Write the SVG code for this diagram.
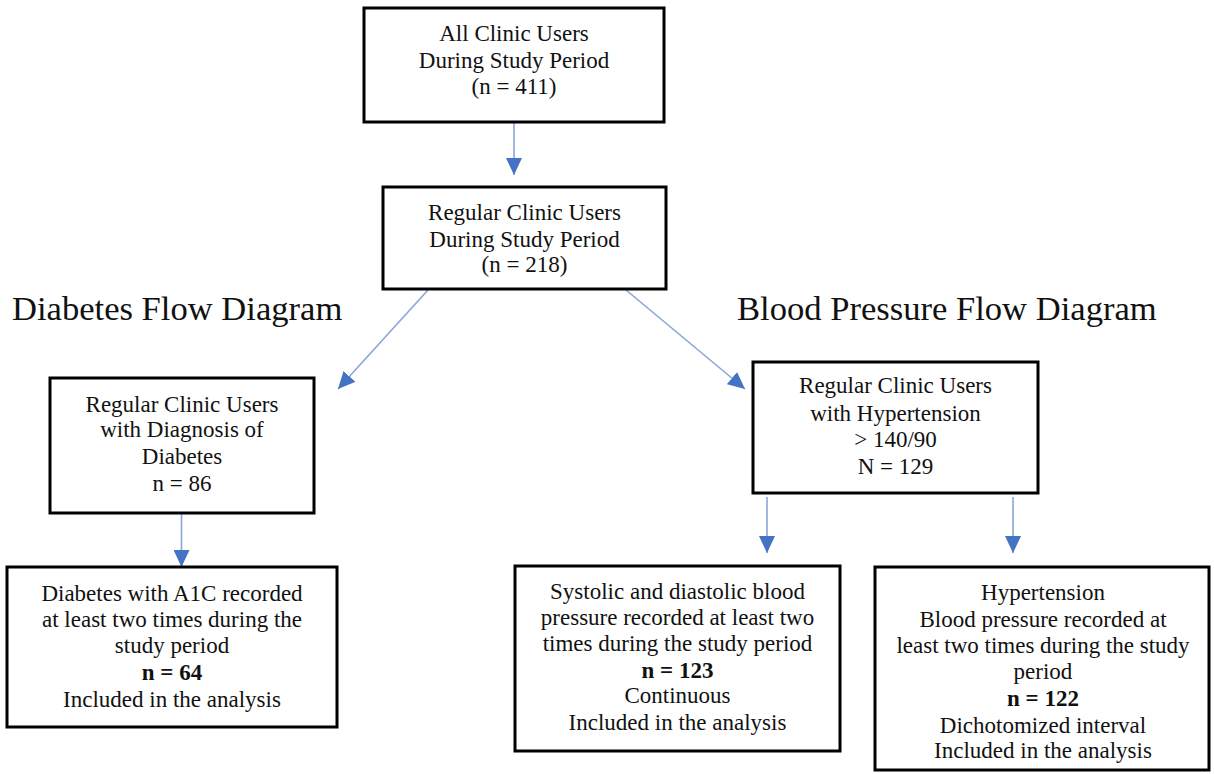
<svg xmlns="http://www.w3.org/2000/svg" width="1214" height="774" viewBox="0 0 1214 774">
<style>
.box{fill:#fff;stroke:#000;stroke-width:3}
.t{font-family:"Liberation Serif","Times New Roman",serif;font-size:23px;fill:#111;text-anchor:middle}
.b{font-weight:bold}
.h{font-family:"Liberation Serif","Times New Roman",serif;font-size:34.6px;fill:#111}
.c{stroke:#8aa6d6;stroke-width:1.6;fill:none;marker-end:url(#ah)}
</style>
<defs>
<marker id="ah" markerUnits="userSpaceOnUse" markerWidth="17" markerHeight="16" refX="17" refY="8" orient="auto" viewBox="0 0 17 16">
<path d="M0,0 L17,8 L0,16 z" fill="#4472c4"/>
</marker>
</defs>
<rect width="1214" height="774" fill="#fff"/>
<text class="h" x="12" y="320">Diabetes Flow Diagram</text>
<text class="h" x="737" y="320">Blood Pressure Flow Diagram</text>
<g id="connectors">
<line class="c" x1="514" y1="123" x2="514" y2="175"/>
<line class="c" x1="428" y1="290" x2="338" y2="389"/>
<line class="c" x1="626" y1="290" x2="745" y2="389"/>
<line class="c" x1="181.5" y1="514" x2="181.5" y2="567"/>
<line class="c" x1="767" y1="497" x2="767" y2="553"/>
<line class="c" x1="1013" y1="497" x2="1013" y2="553"/>
</g>
<g id="all-users">
<rect class="box" x="364" y="8" width="300" height="114"/>
<text class="t" x="514" y="41">All Clinic Users</text>
<text class="t" x="514" y="68">During Study Period</text>
<text class="t" x="514" y="94">(n = 411)</text>
</g>
<g id="regular-users">
<rect class="box" x="383" y="187" width="283" height="102"/>
<text class="t" x="524.5" y="220">Regular Clinic Users</text>
<text class="t" x="524.5" y="247">During Study Period</text>
<text class="t" x="524.5" y="272">(n = 218)</text>
</g>
<g id="diabetes">
<rect class="box" x="50" y="378" width="264" height="135"/>
<text class="t" x="182" y="412">Regular Clinic Users</text>
<text class="t" x="182" y="437">with Diagnosis of</text>
<text class="t" x="182" y="464">Diabetes</text>
<text class="t" x="182" y="491">n = 86</text>
</g>
<g id="hypertension">
<rect class="box" x="753" y="362" width="285" height="131"/>
<text class="t" x="895.5" y="393">Regular Clinic Users</text>
<text class="t" x="895.5" y="421">with Hypertension</text>
<text class="t" x="895.5" y="447">&gt; 140/90</text>
<text class="t" x="895.5" y="474">N = 129</text>
</g>
<g id="diabetes-a1c">
<rect class="box" x="7" y="567" width="330" height="160"/>
<text class="t" x="172" y="601">Diabetes with A1C recorded</text>
<text class="t" x="172" y="627">at least two times during the</text>
<text class="t" x="172" y="653">study period</text>
<text class="t b" x="172" y="680">n = 64</text>
<text class="t" x="172" y="707">Included in the analysis</text>
</g>
<g id="bp-continuous">
<rect class="box" x="515" y="566" width="325" height="185"/>
<text class="t" x="677.5" y="599">Systolic and diastolic blood</text>
<text class="t" x="677.5" y="625">pressure recorded at least two</text>
<text class="t" x="677.5" y="651">times during the study period</text>
<text class="t b" x="677.5" y="678">n = 123</text>
<text class="t" x="677.5" y="703">Continuous</text>
<text class="t" x="677.5" y="730">Included in the analysis</text>
</g>
<g id="bp-dichotomized">
<rect class="box" x="875" y="567" width="334" height="203"/>
<text class="t" x="1043" y="600">Hypertension</text>
<text class="t" x="1043" y="627">Blood pressure recorded at</text>
<text class="t" x="1043" y="653">least two times during the study</text>
<text class="t" x="1043" y="679">period</text>
<text class="t b" x="1043" y="706">n = 122</text>
<text class="t" x="1043" y="733">Dichotomized interval</text>
<text class="t" x="1043" y="758">Included in the analysis</text>
</g>
</svg>
